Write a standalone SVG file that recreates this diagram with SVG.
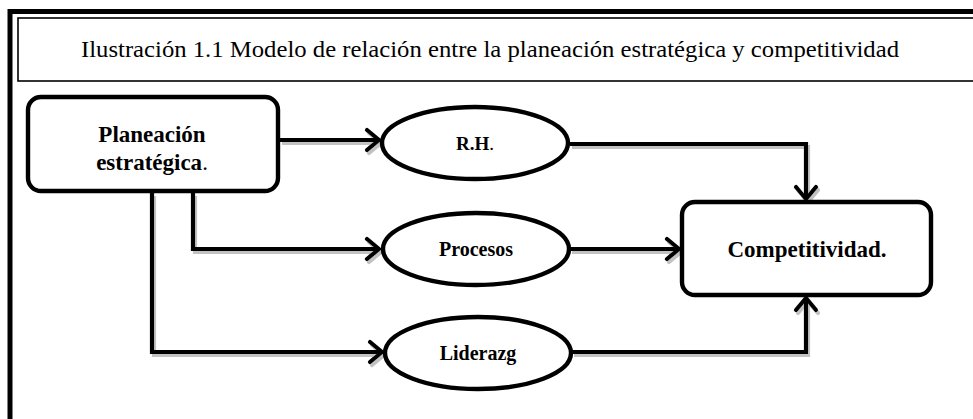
<svg xmlns="http://www.w3.org/2000/svg" width="973" height="419" viewBox="0 0 973 419">
<style>
.frame{fill:none;stroke:#000}
.node{fill:#fff;stroke:#000;stroke-width:4.4}
.lbl{font-family:'Liberation Serif',Tinos,'Times New Roman','Nimbus Roman',Times,serif;font-weight:bold;fill:#000;text-anchor:middle}
.title{font-family:'Liberation Serif',Tinos,'Times New Roman','Nimbus Roman',Times,serif;fill:#000;text-anchor:middle;font-size:23px}
.conn{fill:none;stroke:#000;stroke-width:4.2;marker-end:url(#arr)}
</style>
<defs>
<marker id="arr" markerUnits="userSpaceOnUse" viewBox="-15 -13 19 26" refX="0" refY="0" markerWidth="19" markerHeight="26" orient="auto">
<path d="M-12,-10 L0,0 L-12,10" fill="none" stroke="#000" stroke-width="4.2" stroke-linecap="round" stroke-linejoin="round"/>
</marker>
<filter id="sh" x="-10%" y="-10%" width="120%" height="130%">
<feDropShadow dx="2" dy="3" stdDeviation="0.6" flood-color="#999" flood-opacity="0.6"/>
</filter>
</defs>
<rect class="frame" x="10" y="11.5" width="1000" height="500" stroke-width="5"/>
<rect class="frame" x="18" y="18" width="1000" height="63" stroke-width="1.6"/>
<text class="title" x="490" y="57" textLength="818" lengthAdjust="spacingAndGlyphs">Ilustración 1.1 Modelo de relación entre la planeación estratégica y competitividad</text>
<g id="connectors" filter="url(#sh)">
<path class="conn" d="M280,140 H379"/>
<path class="conn" d="M193,193 V249 H379"/>
<path class="conn" d="M152,193 V352 H382"/>
<path class="conn" d="M570,144 H806 V199"/>
<path class="conn" d="M570,249 H679"/>
<path class="conn" d="M572,352 H806 V298"/>
</g>
<g id="planeacion">
<rect class="node" x="28" y="97" width="250" height="94" rx="13"/>
<text class="lbl" x="152" y="142" font-size="23">Planeación</text>
<text class="lbl" x="152" y="170" font-size="23">estratégica<tspan font-weight="normal">.</tspan></text>
</g>
<g id="rh">
<ellipse class="node" cx="475" cy="143" rx="93" ry="36"/>
<text class="lbl" x="475" y="150" font-size="19">R.H<tspan font-weight="normal">.</tspan></text>
</g>
<g id="procesos">
<ellipse class="node" cx="476" cy="249" rx="93" ry="36"/>
<text class="lbl" x="476" y="256" font-size="20">Procesos</text>
</g>
<g id="liderazg">
<ellipse class="node" cx="478" cy="353" rx="93" ry="36"/>
<text class="lbl" x="478" y="360" font-size="20">Liderazg</text>
</g>
<g id="competitividad">
<rect class="node" x="682" y="202" width="249" height="93" rx="13"/>
<text class="lbl" x="807" y="257" font-size="23">Competitividad.</text>
</g>
</svg>
